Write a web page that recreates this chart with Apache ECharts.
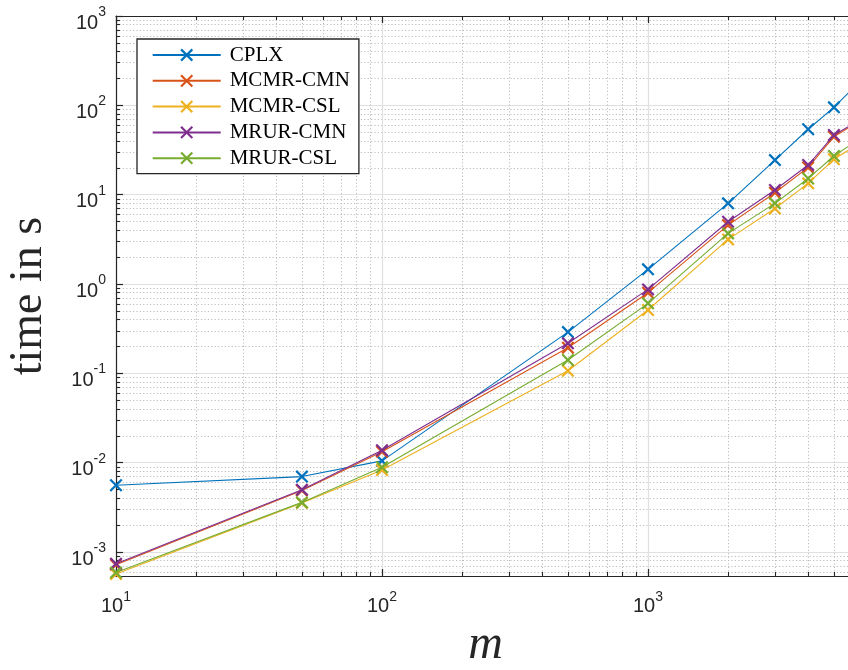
<!DOCTYPE html>
<html>
<head>
<meta charset="utf-8">
<script src="https://cdn.jsdelivr.net/npm/echarts@6/dist/echarts.min.js"></script>
<style>html,body{margin:0;padding:0;background:#fff}#c{width:848px;height:670px}</style>
</head>
<body>
<div id="c"></div>
<script>
// ---- data ----
const mValues   = [10, 50, 100, 500, 1000, 2000, 3000, 4000, 5000, 6000];
const cplx      = [5.6e-3, 7.0e-3, 1.05e-2, 0.29, 1.46, 8.0, 24.4, 54, 95, 164];
const mcmrCmn   = [7.2e-4, 4.9e-3, 1.33e-2, 0.194, 0.80, 4.57, 10.5, 20.2, 44.6, 62];
const mcmrCsl   = [5.7e-4, 3.55e-3, 8.3e-3, 0.107, 0.512, 3.16, 7.0, 13.4, 24.9, 35];
const mrurCmn   = [7.4e-4, 5.0e-3, 1.38e-2, 0.217, 0.871, 4.98, 11.3, 21.5, 46.5, 64];
const mrurCsl   = [5.9e-4, 3.6e-3, 8.9e-3, 0.141, 0.608, 3.69, 8.0, 15.2, 27.1, 39];
const seriesNames  = ['CPLX', 'MCMR-CMN', 'MCMR-CSL', 'MRUR-CMN', 'MRUR-CSL'];
const seriesValues = [cplx, mcmrCmn, mcmrCsl, mrurCmn, mrurCsl];
const seriesColors = ['#0072BD', '#D95319', '#EDB120', '#7E2F8E', '#77AC30'];
const xMajorTicks = [10, 100, 1000];
const yMajorTicks = [1e-3, 1e-2, 1e-1, 1, 10, 100, 1000];
const xRange = [10, 6000];
const yRange = [5.4e-4, 1000];
const xTitle = 'm';
const yTitle = 'time in s';

function minorTicks(lo, hi) {
  const out = [];
  for (let k = -5; k <= 5; k++) {
    for (let d = 2; d <= 9; d++) {
      const v = parseFloat((d * Math.pow(10, k)).toPrecision(3));
      if (v >= lo && v <= hi) out.push(v);
    }
  }
  return out;
}
const xMinor = minorTicks(xRange[0], xRange[1]);
const yMinor = minorTicks(yRange[0], yRange[1]);

const AX = '#262626';
const LBL = 'Liberation Sans';
const SERIF = 'Liberation Serif';
const majorGrid = { show: true, lineStyle: { color: '#e0e0e0', width: 1.2, type: 'solid' } };
const minorGrid = { show: true, lineStyle: { color: '#bdbdbd', width: 1, type: [1.2, 2.2] } };
const xSym = 'path://M0,1.2L1.2,0L10,8.8L8.8,10ZM8.8,0L10,1.2L1.2,10L0,8.8Z';

function expFmt(v) { return '{b|10}{s|' + Math.round(Math.log10(v)) + '}'; }

function logAxis(range, extra) {
  return Object.assign({
    type: 'log', logBase: 10, min: range[0], max: range[1],
    axisLine: { show: false },
    axisTick: { show: false },
    axisLabel: { show: false },
    splitLine: { show: false },
    minorTick: { show: false },
    minorSplitLine: { show: false }
  }, extra);
}

const xAxes = [
  logAxis(xRange, {
    position: 'bottom',
    axisLine: { show: true, onZero: false, lineStyle: { color: AX, width: 1.2 } },
    axisTick: { show: true, inside: true, length: 7, customValues: xMajorTicks, lineStyle: { color: AX, width: 1.2 } },
    axisLabel: {
      show: true, customValues: xMajorTicks, margin: 14, formatter: expFmt,
      color: AX,
      rich: {
        b: { fontFamily: LBL, fontSize: 20, color: AX },
        s: { fontFamily: LBL, fontSize: 14, color: AX, padding: [0, 0, 18, 0] }
      }
    },
    splitLine: majorGrid,
    name: xTitle, nameLocation: 'middle', nameGap: 44,
    nameTextStyle: { fontFamily: SERIF, fontStyle: 'italic', fontSize: 48, color: AX }
  }),
  logAxis(xRange, {
    position: 'bottom',
    axisTick: { show: true, inside: true, length: 4, customValues: xMinor, lineStyle: { color: AX, width: 1.1 } },
    splitLine: minorGrid
  }),
  logAxis(xRange, {
    position: 'top',
    axisLine: { show: true, onZero: false, lineStyle: { color: AX, width: 1.2 } },
    axisTick: { show: true, inside: true, length: 7, customValues: xMajorTicks, lineStyle: { color: AX, width: 1.2 } }
  }),
  logAxis(xRange, {
    position: 'top',
    axisTick: { show: true, inside: true, length: 4, customValues: xMinor, lineStyle: { color: AX, width: 1.1 } }
  })
];

const yAxes = [
  logAxis(yRange, {
    position: 'left',
    axisLine: { show: true, onZero: false, lineStyle: { color: AX, width: 1.2 } },
    axisTick: { show: true, inside: true, length: 7, customValues: yMajorTicks, lineStyle: { color: AX, width: 1.2 } },
    axisLabel: {
      show: true, customValues: yMajorTicks, margin: 10, formatter: expFmt,
      color: AX,
      rich: {
        b: { fontFamily: LBL, fontSize: 20, color: AX, padding: [14, 0, 0, 0] },
        s: { fontFamily: LBL, fontSize: 14, color: AX, padding: [0, 0, 8, 0] }
      }
    },
    splitLine: majorGrid,
    name: yTitle, nameLocation: 'middle', nameGap: 64, nameRotate: 90,
    nameTextStyle: { fontFamily: SERIF, fontSize: 46, color: AX }
  }),
  logAxis(yRange, {
    position: 'left',
    axisTick: { show: true, inside: true, length: 4, customValues: yMinor, lineStyle: { color: AX, width: 1.1 } },
    splitLine: minorGrid
  })
];

const series = seriesNames.map((name, i) => ({
  name: name,
  type: 'line',
  xAxisIndex: 0,
  yAxisIndex: 0,
  data: mValues.map((m, j) => [m, seriesValues[i][j]]),
  symbol: xSym,
  symbolSize: 13,
  showAllSymbol: true,
  lineStyle: { color: seriesColors[i], width: 1.1 },
  itemStyle: { color: seriesColors[i] },
  emphasis: { disabled: true },
  clip: true,
  z: 3 + i
}));

const chart = echarts.init(document.getElementById('c'), null, { renderer: 'canvas' });
chart.setOption({
  animation: false,
  backgroundColor: '#ffffff',
  grid: { left: 116, right: -7, top: 16, bottom: 94, containLabel: false, outerBoundsMode: 'none' },
  legend: {
    data: seriesNames,
    orient: 'vertical',
    left: 137, top: 39,
    padding: [5.5, 9, 5, 14.7],
    itemWidth: 68, itemHeight: 16, itemGap: 4.8,
    backgroundColor: '#ffffff',
    borderColor: AX, borderWidth: 1.3,
    selectedMode: false,
    textStyle: { fontFamily: SERIF, fontSize: 21, color: '#000', padding: [0, 0, 0, 4] }
  },
  xAxis: xAxes,
  yAxis: yAxes,
  series: series
});
</script>
</body>
</html>
